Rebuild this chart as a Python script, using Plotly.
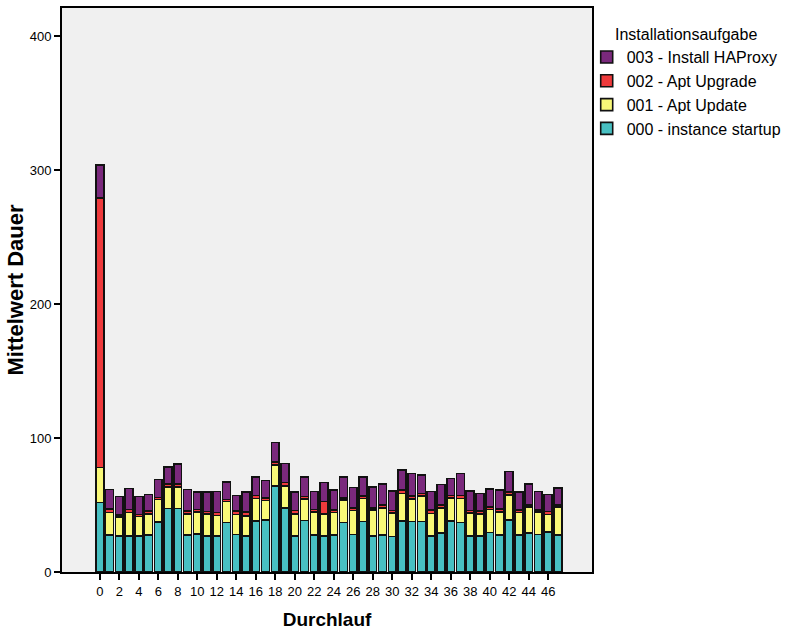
import plotly.graph_objects as go

runs = list(range(48))
startup = [52, 27.5, 27, 27, 27, 27.5, 37.5, 47.5, 47.5, 27.5, 28.5, 27, 27, 37, 28, 27,
           38, 39, 64, 47.8, 27, 38.3, 27.6, 27, 27.6, 37, 28, 37.6, 27, 27.6, 26.4, 38,
           37.6, 37.6, 27, 28.9, 38, 37, 27, 27, 29.6, 27.6, 38.8, 27.6, 28.9, 28.1, 29.9, 27.6]
update = [26, 17, 14, 17.5, 14.5, 16, 16.5, 16, 16, 16, 16.5, 16.5, 15.3, 15.5, 15, 14.8,
          17, 14.5, 16, 16.4, 16.5, 16.2, 17.4, 16.3, 16.9, 16.6, 18, 17.4, 19.2, 20.4, 17.6, 20.7,
          16.9, 19.1, 16.8, 18.9, 17.2, 18, 17, 16.4, 17.2, 17.2, 18.7, 16.9, 19.6, 16.7, 13.1, 20.9]
upgrade = [201, 2.7, 1.5, 2.2, 1.5, 2, 1.5, 2, 2.3, 2, 1.7, 1.8, 2.2, 1.7, 2.5, 3,
           2, 1.8, 2.2, 2.5, 2.3, 2, 1.8, 9.4, 2, 1.8, 2, 1.7, 1.7, 2, 1.8, 2.5,
           2.2, 2, 2.5, 2, 2, 2, 1.8, 2, 1.7, 2.2, 2.4, 1.8, 1.7, 1.7, 2.3, 1.7]
haproxy = [25, 14.5, 14, 15.7, 13.5, 12.5, 13.5, 13, 15, 16, 13, 14.5, 15.7, 13, 11.7, 15,
           14, 13, 14.5, 14.4, 13.7, 14.2, 13.4, 14.2, 14.5, 15.4, 15, 14, 15.7, 15.9, 14.6, 14.9,
           16.9, 13.9, 13.9, 15.4, 12.7, 16.4, 14.6, 13.2, 13.4, 14.4, 15, 13.4, 15.7, 13.7, 12.7, 12.7]

series = [
    ("000 - instance startup", startup, "#48c0c2"),
    ("001 - Apt Update", update, "#f8f878"),
    ("002 - Apt Upgrade", upgrade, "#ee3a3c"),
    ("003 - Install HAProxy", haproxy, "#7a297c"),
]

fig = go.Figure()
for name, vals, col in series:
    fig.add_trace(go.Bar(x=runs, y=vals, name=name,
                         marker=dict(color=col, line=dict(color="#111111", width=1.6))))

font_family = "Liberation Sans, Arial, sans-serif"
fig.update_layout(
    barmode="stack",
    bargap=0.2,
    width=794, height=630,
    margin=dict(l=62, r=199, t=8, b=58),
    paper_bgcolor="white",
    plot_bgcolor="#f0f0f0",
    font=dict(family=font_family, color="black", size=13),
    legend=dict(
        title=dict(text="Installationsaufgabe", side="top center", font=dict(size=16)),
        traceorder="reversed",
        font=dict(size=16),
        x=0.99, xanchor="left", y=0.98, yanchor="top",
        bgcolor="rgba(0,0,0,0)",
        itemwidth=30,
        tracegroupgap=0,
    ),
    showlegend=True,
)
fig.update_xaxes(
    range=[-3.88, 50.5], automargin=False,
    tickmode="array", tickvals=list(range(0, 48, 2)), ticktext=[str(v) for v in range(0, 48, 2)],
    ticks="outside", ticklen=6, tickcolor="black", tickwidth=1.5,
    showline=True, linecolor="black", linewidth=2, mirror=True,
    showgrid=False, zeroline=False,
    title=dict(text="<b>Durchlauf</b>", font=dict(size=19), standoff=16),
    tickfont=dict(size=13),
)
fig.update_yaxes(
    range=[0, 421], automargin=False,
    tickvals=[0, 100, 200, 300, 400],
    ticks="outside", ticklen=6, tickcolor="black", tickwidth=1.5,
    showline=True, linecolor="black", linewidth=2, mirror=True,
    showgrid=False, zeroline=False,
    title=dict(text="<b>Mittelwert Dauer</b>", font=dict(size=22), standoff=0),
    tickfont=dict(size=13),
)

fig.write_html("out.html", config={"displayModeBar": False},
               post_script="document.body.style.margin='0';")
